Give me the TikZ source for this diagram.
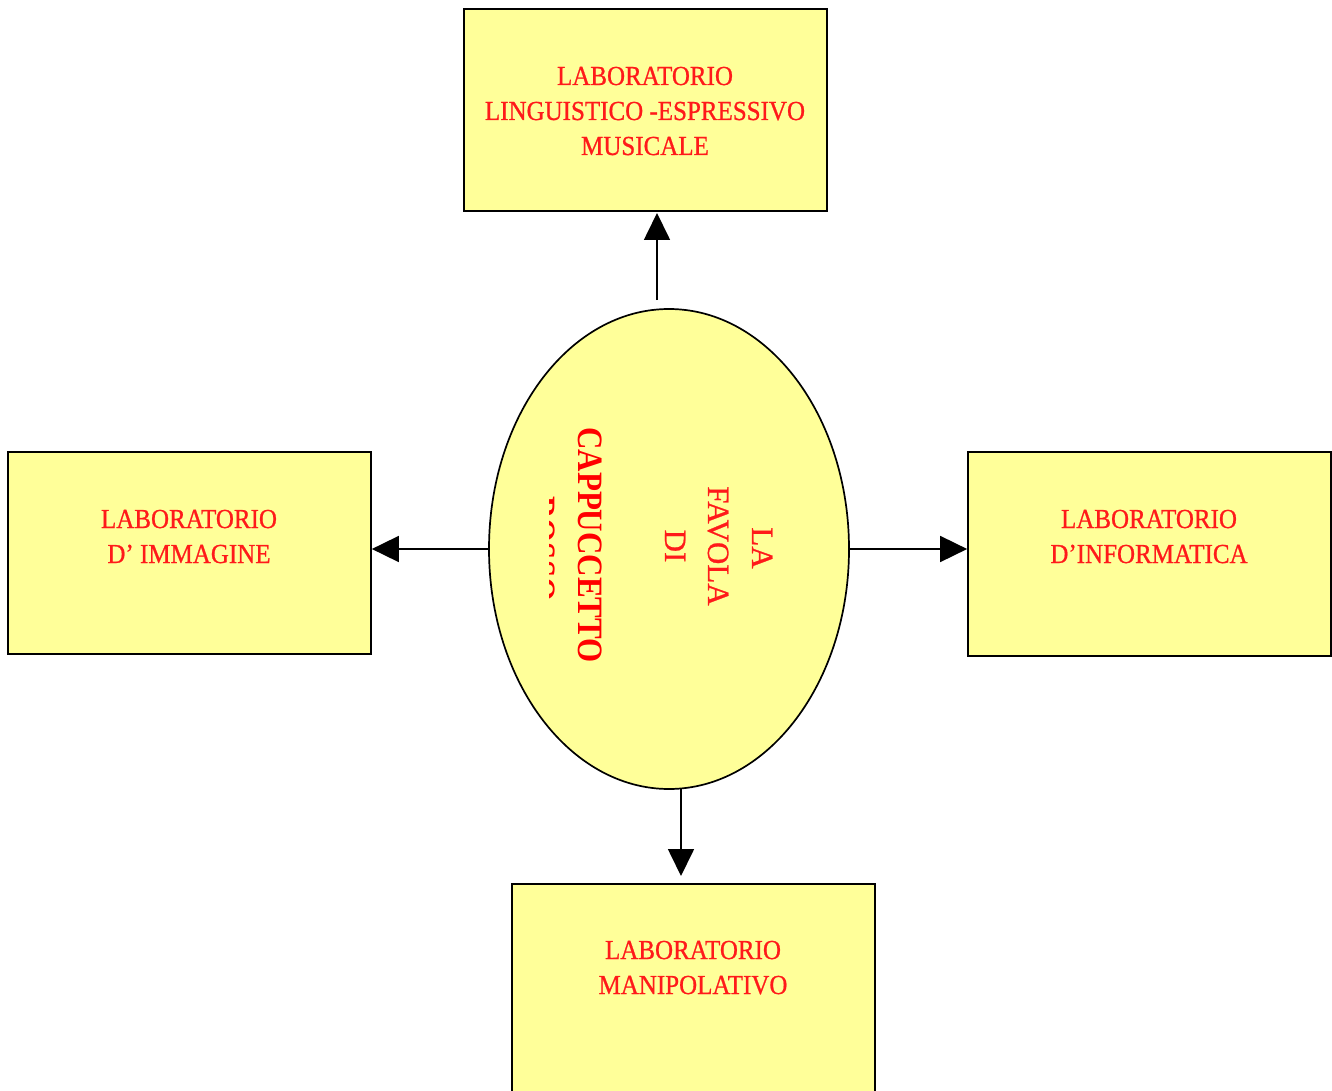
\documentclass[tikz,border=0pt]{standalone}
\usepackage{fontspec}
\setmainfont{Liberation Serif}
\newfontfamily\labfont[FakeBold=0.8]{Liberation Serif}
\usetikzlibrary{shapes.geometric,arrows.meta}
\definecolor{boxfill}{HTML}{FFFF99}
\definecolor{txtred}{HTML}{FF1A1A}
\begin{document}
\begin{tikzpicture}[x=1pt,y=-1pt,
  labbox/.style={draw=black,line width=1.7pt,fill=boxfill,rectangle,inner sep=0pt},
  labtext/.style={text=txtred,font=\labfont\fontsize{25}{30}\selectfont,anchor=base,inner sep=0pt,yscale=1.1},
  elltext/.style={text=txtred,font=\labfont\fontsize{31}{36}\selectfont,anchor=base,inner sep=0pt,rotate=-90},
  elltextb/.style={elltext,font=\fontsize{31}{36}\selectfont\bfseries,text=red,yscale=1.15},
  arr/.style={line width=1.7pt,-{Triangle[length=27pt,width=26pt]}}]
\useasboundingbox (0,0) rectangle (1332,1091);
% boxes
\node[labbox,minimum width=363pt,minimum height=202pt] (top) at (645.5,110) {};
\node[labbox,minimum width=363pt,minimum height=202pt] (left) at (189.5,553) {};
\node[labbox,minimum width=363pt,minimum height=204pt] (right) at (1149.5,554) {};
\node[labbox,minimum width=363pt,minimum height=214pt] (bottom) at (693.5,991) {};
% ellipse
\node[draw=black,line width=1.7pt,fill=boxfill,ellipse,minimum width=360pt,minimum height=480pt,inner sep=0pt] (ell) at (669,549) {};
% box texts
\node[labtext] (t1) at (645,85) {LABORATORIO};
\node[labtext] (t2) at (645,120) {LINGUISTICO -ESPRESSIVO};
\node[labtext] (t3) at (645,155) {MUSICALE};
\node[labtext] (l1) at (189,528) {LABORATORIO};
\node[labtext] (l2) at (189,563) {D’ IMMAGINE};
\node[labtext] (r1) at (1149,528) {LABORATORIO};
\node[labtext] (r2) at (1149,563) {D’INFORMATICA};
\node[labtext] (b1) at (693,959) {LABORATORIO};
\node[labtext] (b2) at (693,994) {MANIPOLATIVO};
% ellipse texts (rotated)
\node[elltext] (e1) at (752,548) {LA};
\node[elltext] (e2) at (708,546) {FAVOLA};
\node[elltext] (e3) at (665,546) {DI};
\node[elltextb] (e4) at (578,545) {CAPPUCCETTO};
\begin{scope}
  \clip (549,300) rectangle (800,800);
  \node[elltextb] (e5) at (531,549) {ROSSO};
\end{scope}
% connectors
\coordinate (upstart) at (657,300);
\coordinate (upend) at (657,213);
\coordinate (downstart) at (681,789);
\coordinate (downend) at (681,876);
\draw[arr] (upstart) -- (upend);
\draw[arr] (downstart) -- (downend);
\draw[arr] (ell.west) -- (ell.west -| left.east);
\draw[arr] (ell.east) -- (ell.east -| right.west);
\end{tikzpicture}
\end{document}
